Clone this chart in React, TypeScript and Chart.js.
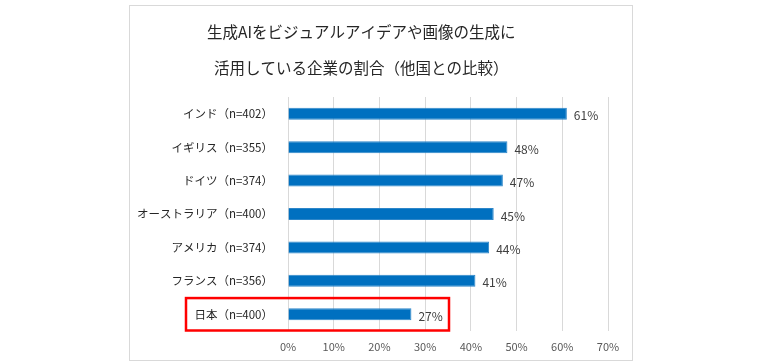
import React, { useEffect, useRef } from "react";
import { Chart, registerables } from "chart.js";

Chart.register(...registerables);

const titleLines = [
  "生成AIをビジュアルアイデアや画像の生成に",
  "活用している企業の割合（他国との比較）",
];
const categories = [
  "インド（n=402）",
  "イギリス（n=355）",
  "ドイツ（n=374）",
  "オーストラリア（n=400）",
  "アメリカ（n=374）",
  "フランス（n=356）",
  "日本（n=400）",
];
const values = [61, 48, 47, 45, 44, 41, 27];
const xTicks = [0, 10, 20, 30, 40, 50, 60, 70];
const highlightIndex = 6;

const FONT = '"Noto Sans CJK JP", "Noto Sans", sans-serif';

const decorPlugin = {
  id: "decor",
  beforeDraw(chart: any) {
    const ctx = chart.ctx;
    ctx.save();
    ctx.fillStyle = "#ffffff";
    ctx.fillRect(0, 0, chart.width, chart.height);
    ctx.strokeStyle = "#d9d9d9";
    ctx.lineWidth = 1;
    ctx.strokeRect(129.5, 5.5, 503, 355);
    ctx.fillStyle = "#262626";
    ctx.font = `15.5px ${FONT}`;
    ctx.textAlign = "left";
    ctx.textBaseline = "middle";
    ctx.fillText(titleLines[0], 207, 32);
    ctx.fillText(titleLines[1], 214, 68);
    ctx.restore();
  },
  afterDatasetsDraw(chart: any) {
    const ctx = chart.ctx;
    const meta = chart.getDatasetMeta(0);
    ctx.save();
    ctx.fillStyle = "#404040";
    ctx.font = `12px ${FONT}`;
    ctx.textAlign = "left";
    ctx.textBaseline = "middle";
    meta.data.forEach((bar: any, i: number) => {
      ctx.fillText(values[i] + "%", bar.x + 7, bar.y + 2);
    });
    const yScale = chart.scales.y;
    const ca = chart.chartArea;
    const yc = yScale.getPixelForValue(highlightIndex);
    const half = (ca.bottom - ca.top) / categories.length / 2;
    ctx.strokeStyle = "#ff0000";
    ctx.lineWidth = 2.5;
    ctx.strokeRect(ca.left - 102, yc - half + 0.5, 263, half * 2 - 1);
    ctx.restore();
  },
};

export default function App() {
  const ref = useRef<HTMLCanvasElement | null>(null);
  useEffect(() => {
    if (!ref.current) return;
    const chart = new Chart(ref.current, {
      type: "bar",
      data: {
        labels: categories,
        datasets: [
          {
            data: values,
            backgroundColor: "#0070C0",
            borderColor: "#2d86c9",
            borderWidth: 1,
            barPercentage: 0.36,
            categoryPercentage: 1,
          },
        ],
      },
      options: {
        indexAxis: "y",
        animation: false,
        responsive: false,
        maintainAspectRatio: false,
        layout: { padding: { left: 130, right: 160, top: 97, bottom: 0 } },
        plugins: {
          legend: { display: false },
          tooltip: { enabled: false },
          title: { display: false },
        },
        scales: {
          x: {
            min: 0,
            max: 70,
            afterFit(scale: any) {
              scale.height = 32;
            },
            afterBuildTicks(scale: any) {
              scale.ticks = xTicks.map((v) => ({ value: v }));
            },
            grid: { color: "#d9d9d9", drawTicks: false, lineWidth: 1 },
            border: { display: false },
            ticks: {
              padding: 9,
              color: "#595959",
              font: { family: FONT, size: 11 },
              callback: (v: any) => v + "%",
            },
          },
          y: {
            afterFit(scale: any) {
              scale.width = 158;
            },
            grid: { display: false, drawTicks: false },
            border: { display: false },
            ticks: {
              padding: 15,
              color: "#262626",
              font: { family: FONT, size: 11.5 },
            },
          },
        },
      },
      plugins: [decorPlugin],
    } as any);
    return () => chart.destroy();
  }, []);
  return (
    <div style={{ position: "absolute", left: 0, top: 0, width: 768, height: 363 }}>
      <canvas ref={ref} width={768} height={363} style={{ width: 768, height: 363 }} />
    </div>
  );
}
